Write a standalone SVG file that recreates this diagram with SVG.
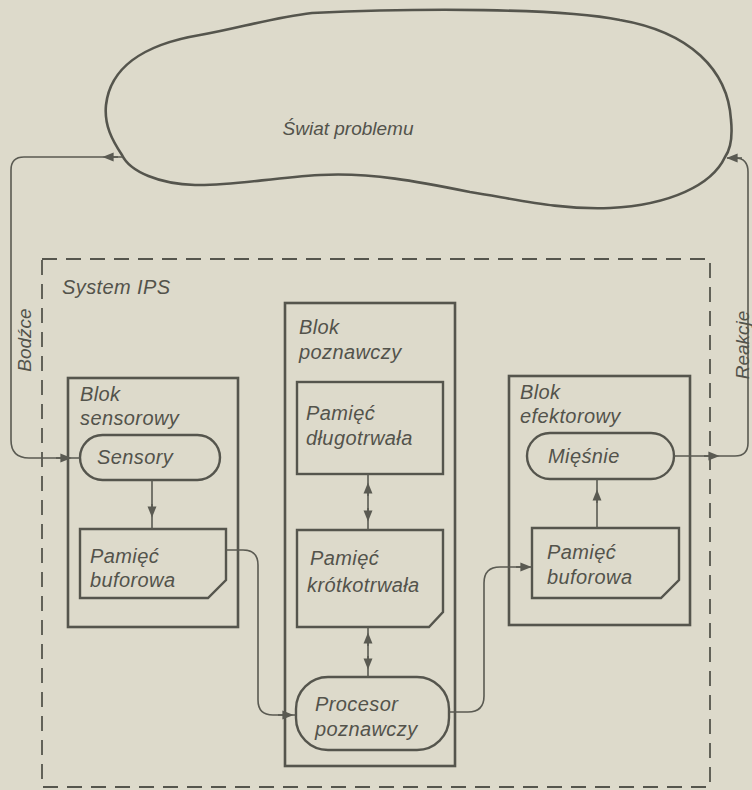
<svg xmlns="http://www.w3.org/2000/svg" width="752" height="790" viewBox="0 0 752 790">
  <style>
    .bg { fill: #dddacb; }
    .cloud { fill: none; stroke: #55554d; stroke-width: 2.6; }
    .block { fill: none; stroke: #55554d; stroke-width: 2.6; }
    .inner { fill: none; stroke: #55554d; stroke-width: 2.4; }
    .system { fill: none; stroke: #55554d; stroke-width: 1.8; stroke-dasharray: 15 9; }
    .wire { fill: none; stroke: #5a5a52; stroke-width: 1.6; }
    .lbl { font-family: "Liberation Sans", Arial, sans-serif; font-style: italic; font-size: 20px; letter-spacing: 0.4px; fill: #53534b; }
    .small { font-size: 19px; letter-spacing: 0; }
    .mid { text-anchor: middle; }
  </style>
  <defs>
    <marker id="arrow" viewBox="0 0 10 10" refX="5" refY="5" markerWidth="7" markerHeight="7" orient="auto">
      <path d="M0,1 L10,5 L0,9 Z" fill="#5a5a52"/>
    </marker>
  </defs>

  <rect class="bg" x="0" y="0" width="752" height="790"/>

  <!-- problem space -->
  <g id="swiat">
    <path class="cloud" d="M312,13 C420,8 560,8 620,20 C690,32 728,70 731,120 C733,140 730,150 725,157 C712,185 670,205 610,208 C560,210 520,200 470,192 C420,182 370,172 320,175 C270,178 230,186 195,185 C160,184 130,172 122,155 C112,140 104,125 106,105 C110,70 140,45 200,35 C240,28 270,18 312,13 Z"/>
    <text class="lbl small mid" x="348" y="135">Świat problemu</text>
  </g>

  <!-- information processing system boundary -->
  <g id="system-ips">
    <rect class="system" x="42" y="259" width="668" height="528"/>
    <text class="lbl" x="62" y="294">System IPS</text>
  </g>

  <g id="blok-sensorowy">
    <rect class="block" x="68" y="378" width="170" height="249"/>
    <text class="lbl" x="80" y="401">Blok</text>
    <text class="lbl" x="80" y="425">sensorowy</text>
  </g>
  <g id="sensory">
    <rect class="inner" x="80" y="435" width="140" height="45" rx="22.5"/>
    <text class="lbl" x="97" y="464">Sensory</text>
  </g>
  <g id="pamiec-buforowa-s">
    <path class="inner" d="M80,529 H226 V580 L208,598 H80 Z"/>
    <text class="lbl" x="90" y="563">Pamięć</text>
    <text class="lbl" x="90" y="587">buforowa</text>
  </g>

  <g id="blok-poznawczy">
    <rect class="block" x="285" y="303" width="170" height="463"/>
    <text class="lbl" x="299" y="334">Blok</text>
    <text class="lbl" x="299" y="359">poznawczy</text>
  </g>
  <g id="pamiec-dlugotrwala">
    <rect class="inner" x="297" y="382" width="146" height="92"/>
    <text class="lbl" x="306" y="420">Pamięć</text>
    <text class="lbl" x="306" y="445">długotrwała</text>
  </g>
  <g id="pamiec-krotkotrwala">
    <path class="inner" d="M297,530 H443 V612 L429,627 H297 Z"/>
    <text class="lbl" x="310" y="565">Pamięć</text>
    <text class="lbl" x="307" y="592">krótkotrwała</text>
  </g>
  <g id="procesor">
    <rect class="inner" x="296" y="677" width="153" height="73" rx="32"/>
    <text class="lbl" x="315" y="711">Procesor</text>
    <text class="lbl" x="315" y="736">poznawczy</text>
  </g>

  <g id="blok-efektorowy">
    <rect class="block" x="509" y="376" width="181" height="249"/>
    <text class="lbl" x="520" y="399">Blok</text>
    <text class="lbl" x="520" y="423">efektorowy</text>
  </g>
  <g id="miesnie">
    <rect class="inner" x="527" y="433" width="147" height="46" rx="23"/>
    <text class="lbl" x="548" y="463">Mięśnie</text>
  </g>
  <g id="pamiec-buforowa-e">
    <path class="inner" d="M532,528 H679 V580 L661,598 H532 Z"/>
    <text class="lbl" x="547" y="559">Pamięć</text>
    <text class="lbl" x="547" y="584">buforowa</text>
  </g>

  <g id="connectors">
    <!-- stimuli: world to sensors -->
    <path class="wire" d="M123,157 H24 Q11,157 11,170 V440 Q11,458 29,458 H80"/>
    <path class="wire" d="M118,157 H108" marker-end="url(#arrow)"/>
    <path class="wire" d="M56,458 H66" marker-end="url(#arrow)"/>
    <text class="lbl small mid" transform="translate(31,340) rotate(-90)">Bodźce</text>

    <!-- sensors to sensory buffer -->
    <path class="wire" d="M152,480 V529"/>
    <path class="wire" d="M152,504 V512" marker-end="url(#arrow)"/>

    <!-- sensory buffer to processor -->
    <path class="wire" d="M226,550 H243 Q258,550 258,565 V700 Q258,715 273,715 H296"/>
    <path class="wire" d="M278,715 H288" marker-end="url(#arrow)"/>

    <!-- long-term memory to short-term memory -->
    <path class="wire" d="M368,474 V530"/>
    <path class="wire" d="M368,496 V488" marker-end="url(#arrow)"/>
    <path class="wire" d="M368,508 V516" marker-end="url(#arrow)"/>

    <!-- short-term memory to processor -->
    <path class="wire" d="M368,627 V677"/>
    <path class="wire" d="M368,646 V638" marker-end="url(#arrow)"/>
    <path class="wire" d="M368,656 V664" marker-end="url(#arrow)"/>

    <!-- processor to effector buffer -->
    <path class="wire" d="M449,712 H468 Q484,712 484,696 V583 Q484,567 500,567 H532"/>
    <path class="wire" d="M516,567 H526" marker-end="url(#arrow)"/>

    <!-- effector buffer to muscles -->
    <path class="wire" d="M597,528 V479"/>
    <path class="wire" d="M597,503 V495" marker-end="url(#arrow)"/>

    <!-- responses: muscles to world -->
    <path class="wire" d="M674,456 H735 Q748,456 748,443 V172 Q748,158 735,158 H727"/>
    <path class="wire" d="M704,456 H714" marker-end="url(#arrow)"/>
    <path class="wire" d="M742,158 H732" marker-end="url(#arrow)"/>
    <text class="lbl small mid" transform="translate(749,345) rotate(-90)">Reakcje</text>
  </g>
</svg>
